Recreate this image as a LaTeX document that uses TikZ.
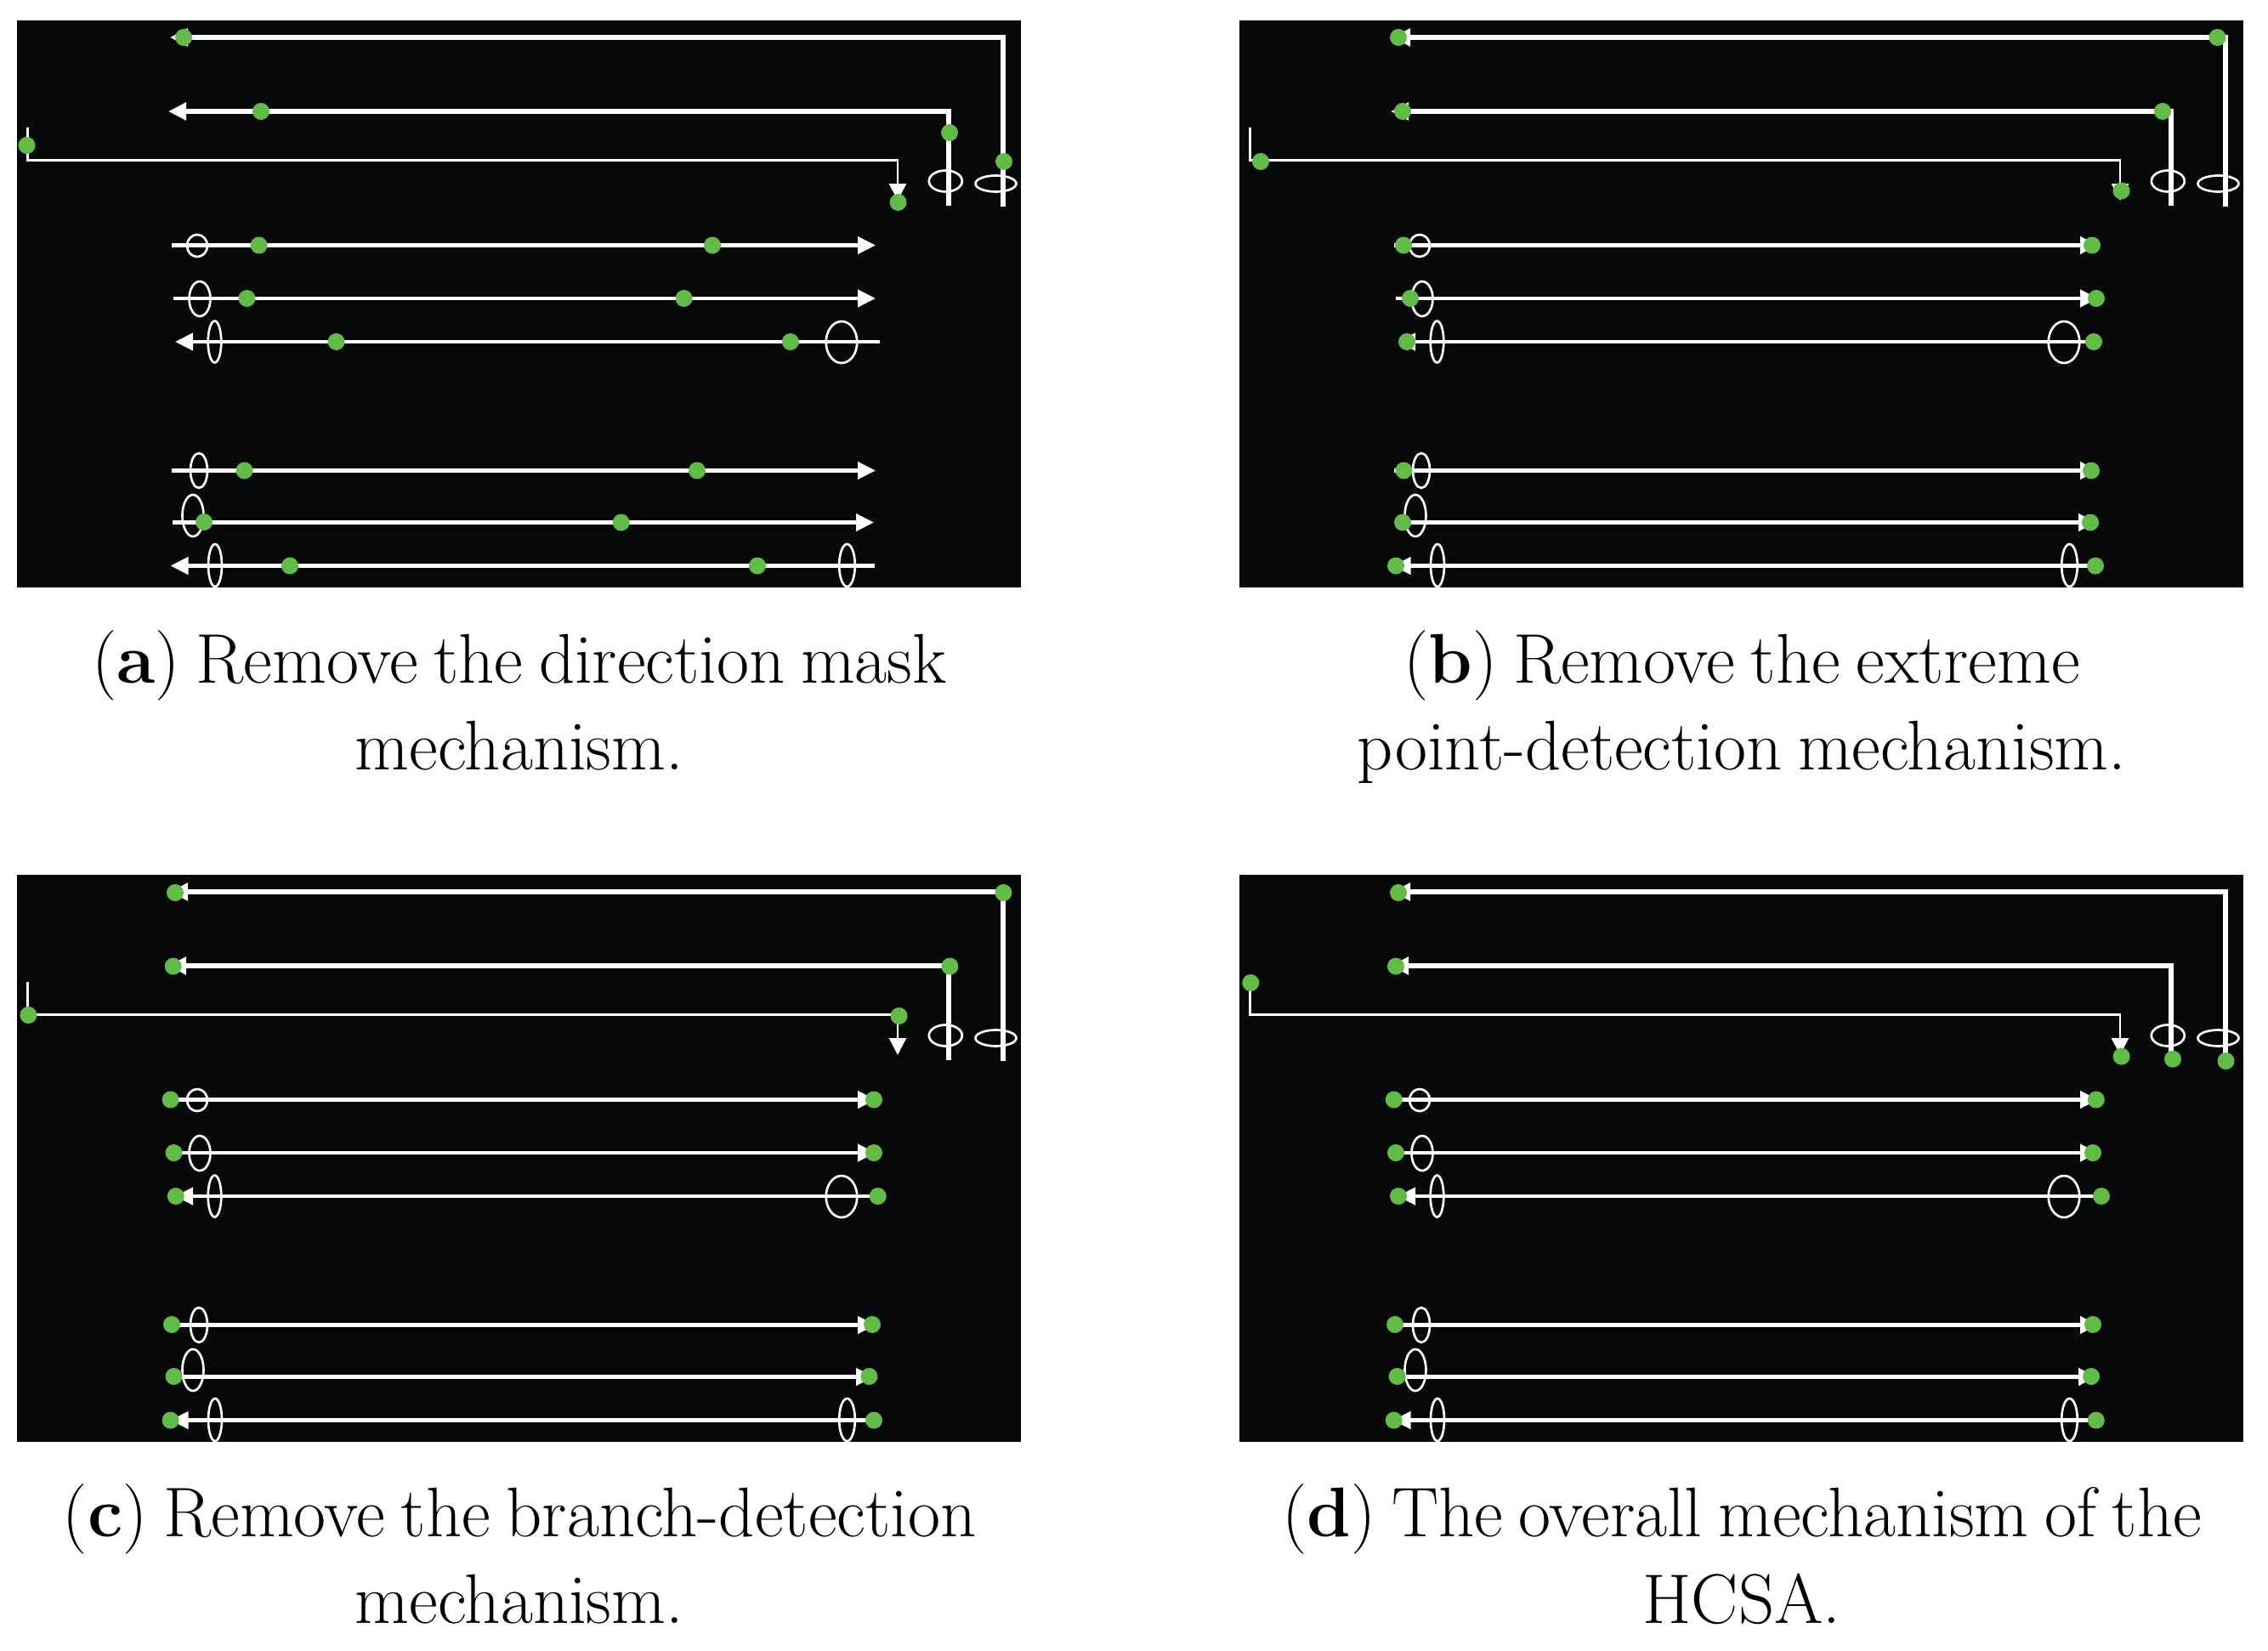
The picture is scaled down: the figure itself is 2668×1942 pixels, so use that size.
\documentclass[tikz,border=0pt]{standalone}
\usetikzlibrary{arrows.meta}
\definecolor{panelblack}{RGB}{6,8,10}
\definecolor{dotgreen}{RGB}{98,187,70}
\newcommand{\capfont}{\fontsize{24.8}{30}\selectfont\spaceskip=5.6pt\relax}
\tikzset{
  mainline/.style={draw=white, line width=1.3pt},
  heavyline/.style={draw=white, line width=1.65pt},
  thinline/.style={draw=white, line width=0.85pt},
  ring/.style={draw=white, line width=0.8pt},
  gdot/.style={fill=dotgreen},
  arr/.style={-{Triangle[length=6.3pt,width=6pt]}},
  arrthin/.style={-{Triangle[length=6pt,width=6pt]}},
  caption/.style={anchor=base, inner sep=0pt}
}
\newcommand{\panelbase}{%
  \fill[panelblack] (0,0) rectangle (1181,667);
  % top L-shaped lines
  \draw[heavyline, arr] (1160,219) -- (1160,20) -- (180,20);
  \draw[heavyline, arr] (1096,218) -- (1096,107) -- (178,107);
  \draw[thinline, arrthin] (12.5,126) -- (12.5,164.5) -- (1036,164.5) -- (1036,212);
  \draw[ring] (1151.5,192) ellipse [x radius=24, y radius=9.5];
  \draw[ring] (1092.3,189) ellipse [x radius=19.5, y radius=12.5];
  % upper row group
  \draw[mainline, arr] (182,264.5) -- (1010,264.5);
  \draw[ring] (212,265) ellipse [x radius=12, y radius=13];
  \draw[mainline, arr] (184,327) -- (1010,327);
  \draw[ring] (215,327.5) ellipse [x radius=12.5, y radius=20.5];
  \draw[mainline, arr] (1015,378) -- (186,378);
  \draw[ring] (232.5,378) ellipse [x radius=7.8, y radius=24.5];
  \draw[ring] (970,378.5) ellipse [x radius=18.3, y radius=24.5];
  % lower row group
  \draw[mainline, arr] (182,529.5) -- (1010,529.5);
  \draw[ring] (214,529.5) ellipse [x radius=10, y radius=20.5];
  \draw[mainline, arr] (183,590.5) -- (1008,590.5);
  \draw[ring] (207,582.5) ellipse [x radius=12.5, y radius=24.5];
  \draw[mainline, arr] (1008.5,641.5) -- (180.5,641.5);
  \draw[ring] (233,641) ellipse [x radius=8, y radius=25];
  \draw[ring] (976.5,641) ellipse [x radius=9.3, y radius=25];
}
\newcommand{\greendot}[1]{\fill[gdot] (#1) circle [radius=10];}
\begin{document}
\begin{tikzpicture}[x=0.3pt,y=-0.3pt]
\useasboundingbox (0,0) rectangle (2668,1942);
\fill[white] (0,0) rectangle (2668,1942);

% ---------- panel (a)
\begin{scope}[shift={(20,24)}]
  \panelbase
  \greendot{196,20}\greendot{1161,166}
  \greendot{287,107}\greendot{1097,132}
  \greendot{11.5,147}\greendot{1036.5,214}
  \greendot{284.6,264.5}\greendot{818,264.5}
  \greendot{270.5,327}\greendot{784.6,327}
  \greendot{375.6,378}\greendot{909.8,378}
  \greendot{267.5,529.5}\greendot{800,529.5}
  \greendot{220,590}\greendot{710.7,590.5}
  \greendot{321,641.5}\greendot{871,641.5}
\end{scope}

% ---------- panel (b)
\begin{scope}[shift={(1458,24)}]
  \panelbase
  \greendot{187,20}\greendot{1150.5,20}
  \greendot{192,107}\greendot{1086,107}
  \greendot{25,166}\greendot{1037.5,200.5}
  \greendot{193,264.5}\greendot{1003,264.5}
  \greendot{201,327}\greendot{1008,327}
  \greendot{197,378}\greendot{1005,378}
  \greendot{193.4,529.5}\greendot{1002,529.5}
  \greendot{192,590.5}\greendot{1001,590.5}
  \greendot{184,641.5}\greendot{1007,641.5}
\end{scope}

% ---------- panel (c)
\begin{scope}[shift={(20,1029)}]
  \panelbase
  \greendot{186,21}\greendot{1160.4,21}
  \greendot{183.7,107.6}\greendot{1097.4,107.6}
  \greendot{13.4,165}\greendot{1037.5,166}
  \greendot{180.6,264.5}\greendot{1008,264.5}
  \greendot{184.5,327}\greendot{1008,327}
  \greendot{186.8,378}\greendot{1012.7,378}
  \greendot{182,529}\greendot{1006,529}
  \greendot{184.5,590}\greendot{1002.5,590}
  \greendot{180.6,641.6}\greendot{1008,641.6}
\end{scope}

% ---------- panel (d)
\begin{scope}[shift={(1458,1029)}]
  \panelbase
  \greendot{187,21}\greendot{1160.5,219}
  \greendot{184,107.6}\greendot{1098,216.7}
  \greendot{13.3,127}\greendot{1037.6,213.6}
  \greendot{181.7,264.5}\greendot{1007.8,264.5}
  \greendot{184,327}\greendot{1004,327}
  \greendot{187,378}\greendot{1014,378}
  \greendot{183,529}\greendot{1004,529}
  \greendot{185.6,590}\greendot{1002,590}
  \greendot{181.7,641.6}\greendot{1007.8,641.6}
\end{scope}

% ---------- captions
\node[caption] (capa1) at (611,803) {\capfont (\textbf{a}) Remove the direction mask};
\node[caption] (capa2) at (611,905) {\capfont mechanism.};
\node[caption] (capb1) at (2049,803) {\capfont (\textbf{b}) Remove the extreme};
\node[caption] (capb2) at (2049,905) {\capfont point-detection mechanism.};
\node[caption] (capc1) at (611,1807) {\capfont (\textbf{c}) Remove the branch-detection};
\node[caption] (capc2) at (611,1909) {\capfont mechanism.};
\node[caption] (capd1) at (2049,1807) {\capfont (\textbf{d}) The overall mechanism of the};
\node[caption] (capd2) at (2049,1909) {\capfont HCSA.};
\end{tikzpicture}
\end{document}
